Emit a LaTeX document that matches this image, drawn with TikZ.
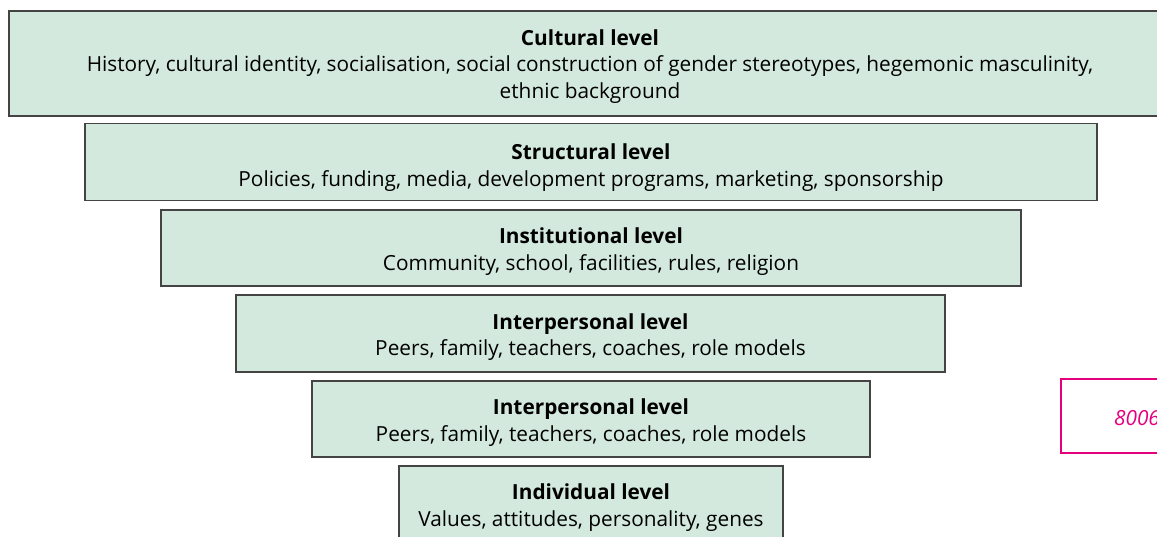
\documentclass[tikz,border=0pt]{standalone}
\usepackage{fontspec}
\setmainfont{Open Sans}
\usepackage{xcolor}
\definecolor{levelgreen}{HTML}{D3E9DE}
\definecolor{levelline}{HTML}{444444}
\definecolor{notepink}{HTML}{E6007E}

\tikzset{
  levelbox/.style={draw=levelline,fill=levelgreen,line width=1.2pt},
  leveltext/.style={align=center,inner sep=0pt,font=\fontsize{20.8}{26.5}\selectfont},
  notebox/.style={draw=notepink,line width=2pt},
  notetext/.style={inner sep=0pt,font=\fontsize{20.8}{27}\selectfont\itshape,text=notepink}
}

\begin{document}
\begin{tikzpicture}[x=1pt,y=-1pt]
\useasboundingbox (0,0) rectangle (1157,537);
\clip (0,0) rectangle (1157,537);
\draw[levelbox] (9,11) rectangle (1171,116);
\node[leveltext] (cultural) at (590,66.5)
  {\textbf{Cultural level}\\History, cultural identity, socialisation, social construction of gender stereotypes, hegemonic masculinity,\\ethnic background};
\draw[levelbox] (85,123.5) rectangle (1097,200.5);
\node[leveltext] (structural) at (591,167.5)
  {\textbf{Structural level}\\Policies, funding, media, development programs, marketing, sponsorship};
\draw[levelbox] (161,210) rectangle (1021,286);
\node[leveltext] (institutional) at (591,251.5)
  {\textbf{Institutional level}\\Community, school, facilities, rules, religion};
\draw[levelbox] (236,295) rectangle (945,372);
\node[leveltext] (interpersonalA) at (590.5,337)
  {\textbf{Interpersonal level}\\Peers, family, teachers, coaches, role models};
\draw[levelbox] (312,381) rectangle (870,457);
\node[leveltext] (interpersonalB) at (591,422.5)
  {\textbf{Interpersonal level}\\Peers, family, teachers, coaches, role models};
\draw[levelbox] (399,466) rectangle (783,542);
\node[leveltext] (individual) at (591,507.5)
  {\textbf{Individual level}\\Values, attitudes, personality, genes};
% note box, cut off at the right edge
\draw[notebox] (1061,379) rectangle (1213,453);
\node[notetext] (note) at (1137,418) {8006};
\end{tikzpicture}
\end{document}
